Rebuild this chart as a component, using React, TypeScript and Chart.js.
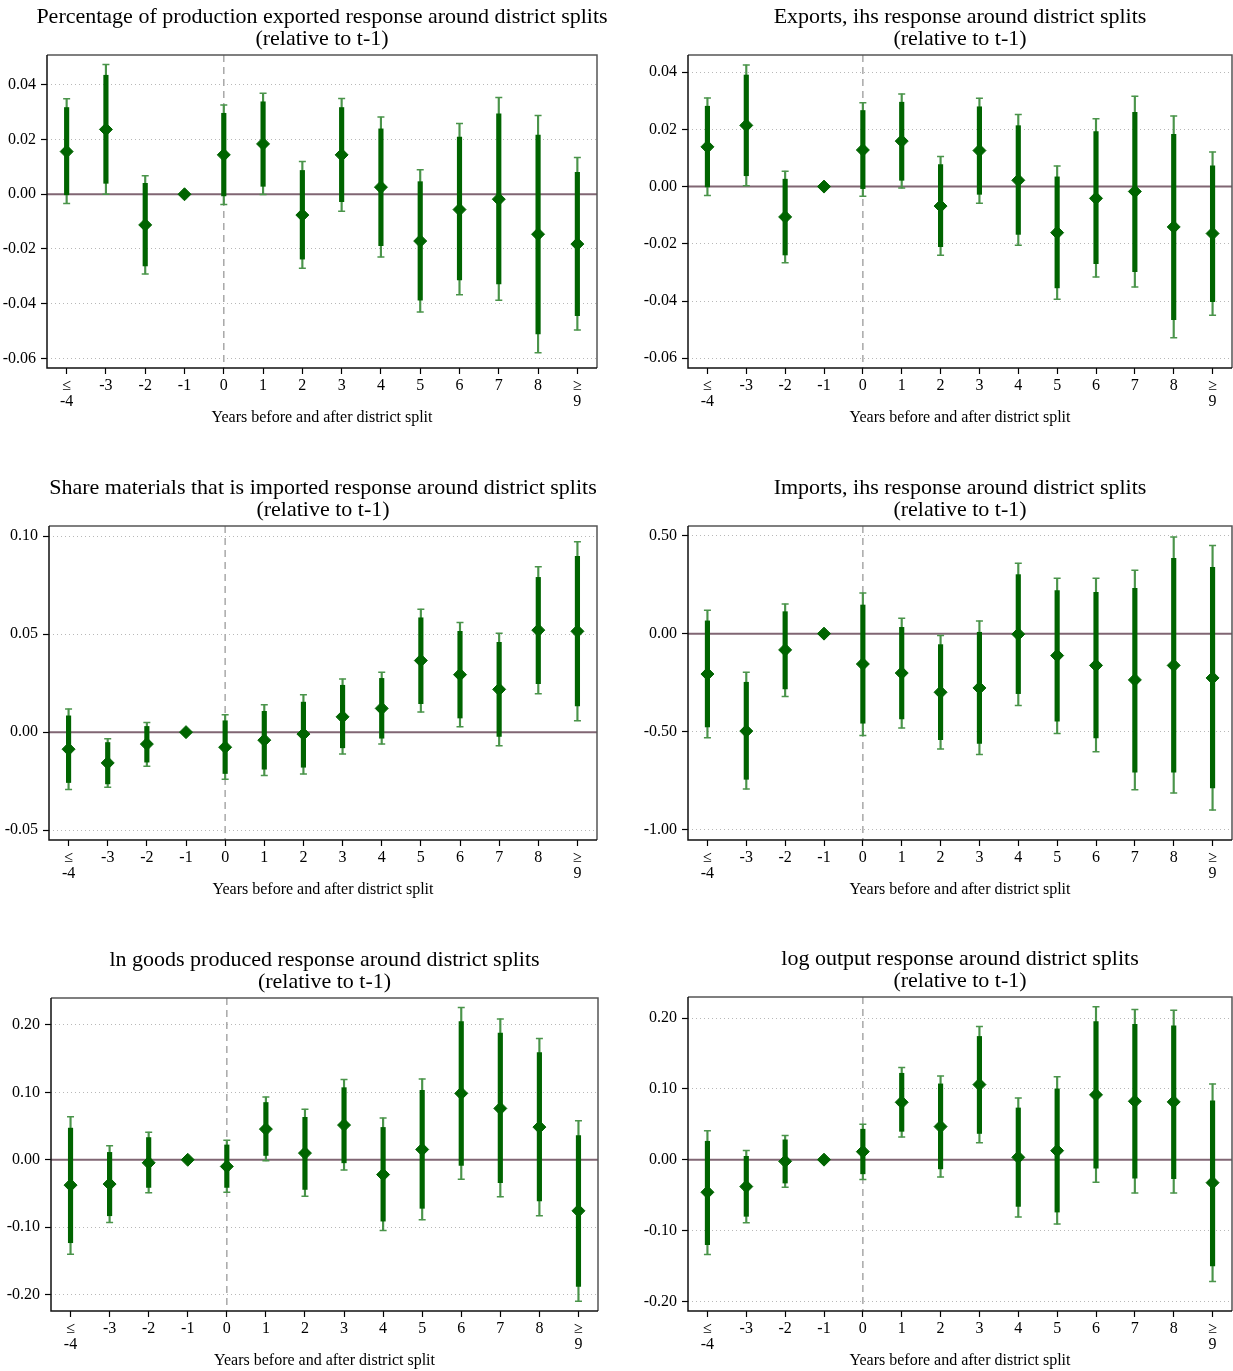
import React, { useEffect, useRef } from 'react';
import { Chart, registerables } from 'chart.js';

Chart.register(...registerables);

// ---------- shared labels ----------
const periods: (string | string[])[] = [['≤', '-4'], '-3', '-2', '-1', '0', '1', '2', '3', '4', '5', '6', '7', '8', ['≥', '9']];
const xAxisTitle = 'Years before and after district split';
const subTitle = '(relative to t-1)';

// ---------- panel 1: Percentage of production exported ----------
const pctExpEst = [0.0156, 0.0237, -0.0112, 0, 0.0144, 0.0184, -0.0076, 0.0144, 0.0026, -0.0171, -0.0056, -0.0018, -0.0146, -0.0182];
const pctExpHi90 = [0.0317, 0.0435, 0.004, null, 0.0296, 0.0338, 0.0087, 0.0317, 0.0239, 0.0046, 0.0209, 0.0294, 0.0216, 0.008];
const pctExpLo90 = [-0.0002, 0.004, -0.0262, null, -0.0006, 0.0029, -0.0237, -0.0027, -0.0188, -0.0387, -0.0313, -0.0328, -0.051, -0.0444];
const pctExpHi95 = [0.0349, 0.0474, 0.0068, null, 0.0326, 0.0369, 0.012, 0.035, 0.0282, 0.009, 0.0259, 0.0354, 0.0288, 0.0134];
const pctExpLo95 = [-0.0034, 0.0, -0.0291, null, -0.0037, -0.0001, -0.027, -0.0062, -0.0229, -0.043, -0.0367, -0.0387, -0.0579, -0.0496];

// ---------- panel 2: Exports, ihs ----------
const expIhsEst = [0.0139, 0.0214, -0.0106, 0, 0.0128, 0.0159, -0.0068, 0.0126, 0.0022, -0.0161, -0.0041, -0.0017, -0.0141, -0.0164];
const expIhsHi90 = [0.0281, 0.039, 0.0026, null, 0.0266, 0.0295, 0.0077, 0.0279, 0.0213, 0.0034, 0.0192, 0.026, 0.0183, 0.0073];
const expIhsLo90 = [-0.0001, 0.0038, -0.0239, null, -0.0007, 0.0022, -0.021, -0.0027, -0.0167, -0.0354, -0.0269, -0.0297, -0.0465, -0.0402];
const expIhsHi95 = [0.031, 0.0425, 0.0054, null, 0.0293, 0.0324, 0.0105, 0.0309, 0.0252, 0.0072, 0.0237, 0.0316, 0.0247, 0.0121];
const expIhsLo95 = [-0.0031, 0.0003, -0.0266, null, -0.0034, -0.0005, -0.024, -0.0058, -0.0205, -0.0394, -0.0316, -0.0351, -0.0528, -0.045];

// ---------- panel 3: Share materials imported ----------
const shareImpEst = [-0.0087, -0.0157, -0.0061, 0, -0.0077, -0.0041, -0.001, 0.0078, 0.0121, 0.0365, 0.0293, 0.0218, 0.052, 0.0514];
const shareImpHi90 = [0.0083, -0.0053, 0.0029, null, 0.0058, 0.0106, 0.0153, 0.0239, 0.0274, 0.0583, 0.0514, 0.0458, 0.0789, 0.0896];
const shareImpLo90 = [-0.0257, -0.0264, -0.0153, null, -0.0211, -0.0189, -0.0179, -0.008, -0.0031, 0.0145, 0.0072, -0.0022, 0.0247, 0.0133];
const shareImpHi95 = [0.0118, -0.0034, 0.0049, null, 0.0089, 0.014, 0.0191, 0.0271, 0.0305, 0.0627, 0.0559, 0.0504, 0.0843, 0.0971];
const shareImpLo95 = [-0.0293, -0.0281, -0.0174, null, -0.024, -0.0221, -0.0213, -0.0111, -0.0061, 0.0102, 0.0027, -0.007, 0.0196, 0.0058];

// ---------- panel 4: Imports, ihs ----------
const impIhsEst = [-0.206, -0.497, -0.083, 0, -0.155, -0.201, -0.299, -0.277, -0.003, -0.112, -0.162, -0.236, -0.162, -0.226];
const impIhsHi90 = [0.065, -0.248, 0.112, null, 0.146, 0.032, -0.056, 0.007, 0.301, 0.219, 0.211, 0.231, 0.384, 0.338];
const impIhsLo90 = [-0.476, -0.743, -0.282, null, -0.457, -0.435, -0.541, -0.56, -0.306, -0.446, -0.532, -0.706, -0.706, -0.787];
const impIhsHi95 = [0.119, -0.197, 0.151, null, 0.207, 0.078, -0.01, 0.065, 0.359, 0.282, 0.282, 0.323, 0.493, 0.449];
const impIhsLo95 = [-0.531, -0.793, -0.321, null, -0.519, -0.481, -0.588, -0.617, -0.366, -0.509, -0.602, -0.796, -0.813, -0.9];

// ---------- panel 5: ln goods produced ----------
const lnGoodsEst = [-0.0376, -0.036, -0.0045, 0, -0.0099, 0.0455, 0.0099, 0.0515, -0.022, 0.0153, 0.0985, 0.0762, 0.0485, -0.0757];
const lnGoodsHi90 = [0.047, 0.011, 0.033, null, 0.022, 0.085, 0.063, 0.107, 0.048, 0.103, 0.205, 0.188, 0.159, 0.036];
const lnGoodsLo90 = [-0.123, -0.083, -0.041, null, -0.041, 0.0064, -0.044, -0.0045, -0.091, -0.072, -0.0084, -0.034, -0.061, -0.188];
const lnGoodsHi95 = [0.064, 0.021, 0.041, null, 0.029, 0.093, 0.075, 0.119, 0.062, 0.12, 0.226, 0.209, 0.18, 0.058];
const lnGoodsLo95 = [-0.14, -0.093, -0.049, null, -0.048, -0.0015, -0.054, -0.015, -0.105, -0.089, -0.029, -0.055, -0.083, -0.21];

// ---------- panel 6: log output ----------
const logOutEst = [-0.046, -0.038, -0.0024, 0, 0.0113, 0.081, 0.0467, 0.106, 0.0033, 0.0127, 0.0915, 0.0825, 0.0816, -0.0325];
const logOutHi90 = [0.026, 0.0047, 0.028, null, 0.043, 0.122, 0.107, 0.174, 0.073, 0.1, 0.195, 0.191, 0.189, 0.083];
const logOutLo90 = [-0.12, -0.08, -0.033, null, -0.02, 0.04, -0.013, 0.037, -0.066, -0.074, -0.012, -0.026, -0.027, -0.15];
const logOutHi95 = [0.041, 0.013, 0.034, null, 0.05, 0.13, 0.118, 0.188, 0.087, 0.117, 0.216, 0.212, 0.211, 0.107];
const logOutLo95 = [-0.134, -0.089, -0.039, null, -0.028, 0.032, -0.0245, 0.024, -0.081, -0.091, -0.032, -0.047, -0.047, -0.172];

// ---------- y tick labels ----------
const ticksExports = [-0.06, -0.04, -0.02, 0, 0.02, 0.04];
const ticksShare = [-0.05, 0, 0.05, 0.1];
const ticksImports = [-1.0, -0.5, 0, 0.5];
const ticksOutput = [-0.2, -0.1, 0, 0.1, 0.2];

// ---------- styles ----------
const FONT = "'Liberation Serif', 'Times New Roman', serif";
const DARK = '#006400';
const LIGHT = '#4a944a';
const ZERO = '#806673';
const DASH = '#a8a8a8';
const GRID = '#b8b8b8';
const Y_AXIS_W = 45;
const X_AXIS_H = 60;

type Panel = {
  title: string;
  est: number[];
  lo90: (number | null)[];
  hi90: (number | null)[];
  lo95: (number | null)[];
  hi95: (number | null)[];
  ticks: number[];
  yMin: number;
  yMax: number;
  canvas: { left: number; top: number; width: number; height: number };
  area: { left: number; right: number; top: number; bottom: number };
};

const panels: Panel[] = [
  {
    title: 'Percentage of production exported response around district splits',
    est: pctExpEst, lo90: pctExpLo90, hi90: pctExpHi90, lo95: pctExpLo95, hi95: pctExpHi95,
    ticks: ticksExports, yMin: -0.0635, yMax: 0.0509,
    canvas: { left: 0, top: 0, width: 612, height: 470 },
    area: { left: 47, right: 597, top: 55, bottom: 368 },
  },
  {
    title: 'Exports, ihs response around district splits',
    est: expIhsEst, lo90: expIhsLo90, hi90: expIhsHi90, lo95: expIhsLo95, hi95: expIhsHi95,
    ticks: ticksExports, yMin: -0.0634, yMax: 0.046,
    canvas: { left: 616, top: 0, width: 617, height: 470 },
    area: { left: 688, right: 1232, top: 55, bottom: 368 },
  },
  {
    title: 'Share materials that is imported response around district splits',
    est: shareImpEst, lo90: shareImpLo90, hi90: shareImpHi90, lo95: shareImpLo95, hi95: shareImpHi95,
    ticks: ticksShare, yMin: -0.055, yMax: 0.1051,
    canvas: { left: 0, top: 470, width: 612, height: 470 },
    area: { left: 49, right: 597, top: 526, bottom: 840 },
  },
  {
    title: 'Imports, ihs response around district splits',
    est: impIhsEst, lo90: impIhsLo90, hi90: impIhsHi90, lo95: impIhsLo95, hi95: impIhsHi95,
    ticks: ticksImports, yMin: -1.0526, yMax: 0.549,
    canvas: { left: 616, top: 470, width: 617, height: 470 },
    area: { left: 688, right: 1232, top: 526, bottom: 840 },
  },
  {
    title: 'ln goods produced response around district splits',
    est: lnGoodsEst, lo90: lnGoodsLo90, hi90: lnGoodsHi90, lo95: lnGoodsLo95, hi95: lnGoodsHi95,
    ticks: ticksOutput, yMin: -0.2243, yMax: 0.24,
    canvas: { left: 0, top: 940, width: 612, height: 431 },
    area: { left: 51, right: 598, top: 998, bottom: 1311 },
  },
  {
    title: 'log output response around district splits',
    est: logOutEst, lo90: logOutLo90, hi90: logOutHi90, lo95: logOutLo95, hi95: logOutHi95,
    ticks: ticksOutput, yMin: -0.2137, yMax: 0.2297,
    canvas: { left: 616, top: 940, width: 617, height: 431 },
    area: { left: 688, right: 1232, top: 997, bottom: 1311 },
  },
];

function ranges(lo: (number | null)[], hi: (number | null)[]) {
  return lo.map((l, i) => (l === null || hi[i] === null ? null : [l, hi[i] as number]));
}

function PanelChart({ p }: { p: Panel }) {
  const ref = useRef<HTMLCanvasElement | null>(null);
  useEffect(() => {
    const canvas = ref.current;
    if (!canvas) return;
    const c = p.canvas;
    const a = p.area;
    const padding = {
      left: a.left - c.left - Y_AXIS_W,
      right: c.left + c.width - a.right,
      top: a.top - c.top,
      bottom: c.top + c.height - a.bottom - X_AXIS_H,
    };
    const zeroIndex = periods.indexOf('0');

    const decor = {
      id: 'decor',
      beforeDatasetsDraw(chart: any) {
        const { ctx, chartArea: ca, scales } = chart;
        ctx.save();
        // zero line
        const y0 = scales.y.getPixelForValue(0);
        ctx.strokeStyle = ZERO;
        ctx.lineWidth = 2;
        ctx.beginPath();
        ctx.moveTo(ca.left, y0);
        ctx.lineTo(ca.right, y0);
        ctx.stroke();
        // dashed vertical line at period 0
        const x0 = scales.x.getPixelForValue(zeroIndex);
        ctx.strokeStyle = DASH;
        ctx.lineWidth = 1.5;
        ctx.setLineDash([7, 5]);
        ctx.beginPath();
        ctx.moveTo(x0, ca.top);
        ctx.lineTo(x0, ca.bottom);
        ctx.stroke();
        ctx.setLineDash([]);
        // frame: top/right gray, left/bottom black
        ctx.lineWidth = 1.5;
        ctx.strokeStyle = '#555555';
        ctx.beginPath();
        ctx.moveTo(ca.left, ca.top);
        ctx.lineTo(ca.right, ca.top);
        ctx.lineTo(ca.right, ca.bottom);
        ctx.stroke();
        ctx.strokeStyle = '#111111';
        ctx.beginPath();
        ctx.moveTo(ca.left, ca.top);
        ctx.lineTo(ca.left, ca.bottom);
        ctx.lineTo(ca.right, ca.bottom);
        ctx.stroke();
        ctx.restore();
      },
      afterDraw(chart: any) {
        const { ctx, chartArea: ca } = chart;
        const cx = (ca.left + ca.right) / 2;
        ctx.save();
        ctx.fillStyle = '#000';
        ctx.textAlign = 'center';
        ctx.textBaseline = 'middle';
        ctx.font = `22px ${FONT}`;
        ctx.fillText(p.title, cx, ca.top - 38);
        ctx.fillText(subTitle, cx, ca.top - 16);
        ctx.font = `16px ${FONT}`;
        ctx.fillText(xAxisTitle, cx, ca.bottom + 50);
        ctx.restore();
      },
    };

    const chart = new Chart(canvas, {
      type: 'bar',
      data: {
        labels: periods as any,
        datasets: [
          {
            type: 'line',
            label: 'estimate',
            data: p.est,
            showLine: false,
            pointStyle: 'rectRot',
            pointRadius: 6.5,
            pointBorderWidth: 1,
            pointBackgroundColor: DARK,
            pointBorderColor: DARK,
            order: 0,
          } as any,
          {
            type: 'bar',
            label: '90% CI',
            data: ranges(p.lo90, p.hi90) as any,
            backgroundColor: DARK,
            borderWidth: 0,
            barThickness: 4.5,
            grouped: false,
            order: 1,
          } as any,
          {
            type: 'line',
            label: 'upper 95%',
            data: p.hi95,
            showLine: false,
            pointStyle: 'line',
            pointRadius: 3.5,
            pointBorderWidth: 1.5,
            pointBorderColor: LIGHT,
            pointBackgroundColor: LIGHT,
            order: 2,
          } as any,
          {
            type: 'line',
            label: 'lower 95%',
            data: p.lo95,
            showLine: false,
            pointStyle: 'line',
            pointRadius: 3.5,
            pointBorderWidth: 1.5,
            pointBorderColor: LIGHT,
            pointBackgroundColor: LIGHT,
            order: 2,
          } as any,
          {
            type: 'bar',
            label: '95% CI',
            data: ranges(p.lo95, p.hi95) as any,
            backgroundColor: LIGHT,
            borderWidth: 0,
            barThickness: 1.5,
            grouped: false,
            order: 3,
          } as any,
        ],
      },
      options: {
        animation: false,
        responsive: false,
        events: [],
        layout: { padding, autoPadding: false },
        plugins: {
          legend: { display: false },
          tooltip: { enabled: false },
          title: { display: false },
        },
        scales: {
          x: {
            type: 'category',
            offset: true,
            border: { display: false },
            grid: {
              offset: false,
              drawOnChartArea: false,
              drawTicks: true,
              tickLength: 6,
              tickColor: '#000',
              tickWidth: 1.2,
            },
            ticks: {
              color: '#000',
              font: { family: FONT, size: 16, lineHeight: 1.0 },
              padding: 4,
              maxRotation: 0,
              autoSkip: false,
            },
            afterFit: (s: any) => {
              s.height = X_AXIS_H;
              s.paddingLeft = 0;
              s.paddingRight = 0;
            },
          },
          y: {
            type: 'linear',
            min: p.yMin,
            max: p.yMax,
            border: { display: false, dash: [1, 3] },
            grid: {
              color: GRID,
              lineWidth: 1,
              drawTicks: true,
              tickLength: 6,
              tickColor: '#000',
              tickWidth: 1.2,
              tickBorderDash: [],
            },
            ticks: {
              color: '#000',
              font: { family: FONT, size: 16 },
              padding: 5,
              callback: (v: any) => Number(v).toFixed(2),
            },
            afterBuildTicks: (s: any) => {
              s.ticks = p.ticks.map((v) => ({ value: v }));
            },
            afterFit: (s: any) => {
              s.width = Y_AXIS_W;
              s.paddingTop = 0;
              s.paddingBottom = 0;
            },
          },
        },
      } as any,
      plugins: [decor],
    });
    return () => chart.destroy();
  }, [p]);

  return (
    <canvas
      ref={ref}
      width={p.canvas.width}
      height={p.canvas.height}
      style={{
        position: 'absolute',
        left: p.canvas.left,
        top: p.canvas.top,
        width: p.canvas.width,
        height: p.canvas.height,
        display: 'block',
      }}
    />
  );
}

export default function App() {
  return (
    <div style={{ position: 'absolute', left: 0, top: 0, width: 1233, height: 1371, background: '#fff' }}>
      {panels.map((p, i) => (
        <PanelChart key={i} p={p} />
      ))}
    </div>
  );
}
